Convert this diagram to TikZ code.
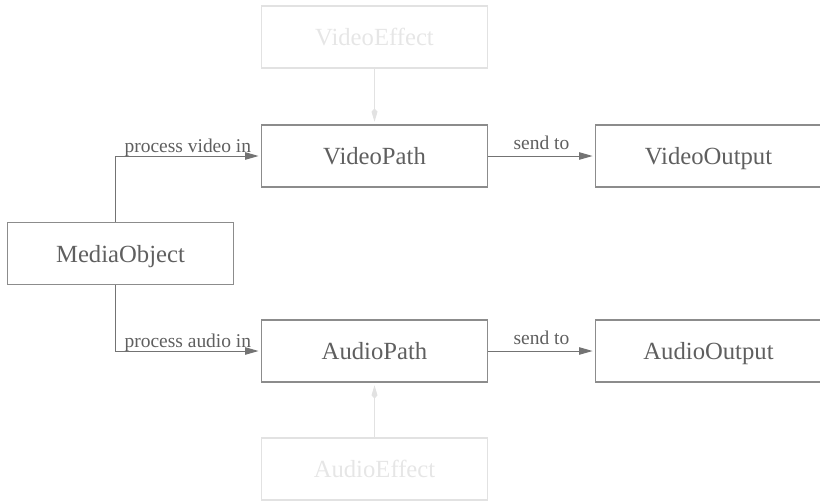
\documentclass[tikz,border=0pt]{standalone}
\usepackage{fontspec}
\setmainfont{Liberation Serif}
\usetikzlibrary{arrows.meta}
\definecolor{boxgray}{RGB}{140,140,140}
\definecolor{txtgray}{RGB}{95,95,95}
\definecolor{linegray}{RGB}{115,115,115}
\definecolor{fadegray}{RGB}{226,226,226}
\definecolor{fadetxt}{RGB}{230,230,230}
\tikzset{
  cls/.style={draw=boxgray, line width=0.9pt, text=txtgray, minimum width=170pt, minimum height=46.5pt, inner sep=0pt, text depth=0pt, font=\fontsize{18.5}{20}\selectfont},
  faded/.style={cls, draw=fadegray, text=fadetxt},
  conn/.style={draw=linegray, line width=0.75pt, -{Triangle[length=10pt,width=5.5pt]}, shorten >=1.5pt},
  effconn/.style={draw=fadegray, line width=0.75pt, -{Kite[length=10pt,width=4.5pt]}, shorten >=2pt},
  lbl/.style={font=\fontsize{14.6}{16}\selectfont, text=txtgray, inner sep=0pt, anchor=base}
}

\begin{document}
\begin{tikzpicture}[x=0.75pt,y=-0.75pt]

\useasboundingbox (0,0) rectangle (820,500);
\clip (0,0) rectangle (820,500); % boxes on the edges are cut
\node[cls] (media) at (120.5,253.5) {MediaObject};
\node[cls] (vpath) at (374.5,156) {VideoPath};
\node[cls] (apath) at (374.5,351) {AudioPath};
\node[cls] (vout) at (708.5,156) {VideoOutput};
\node[cls] (aout) at (708.5,351) {AudioOutput};
\node[faded] (veff) at (374.5,37) {VideoEffect};
\node[faded] (aeff) at (374.5,469) {AudioEffect};

\draw[conn] ([xshift=-4pt]media.north) |- node[lbl,pos=.75,yshift=3pt] {process video in} (vpath.west);
\draw[conn] ([xshift=-4pt]media.south) |- node[lbl,pos=.75,yshift=3pt] {process audio in} (apath.west);
\foreach \ch in {v,a} % the two outputs
\draw[conn] (\ch path) -- node[lbl,yshift=5pt] {send to} (\ch out);
\draw[effconn] (veff) -- (vpath);
\draw[effconn] (aeff) -- (apath);

\end{tikzpicture}
\end{document}
